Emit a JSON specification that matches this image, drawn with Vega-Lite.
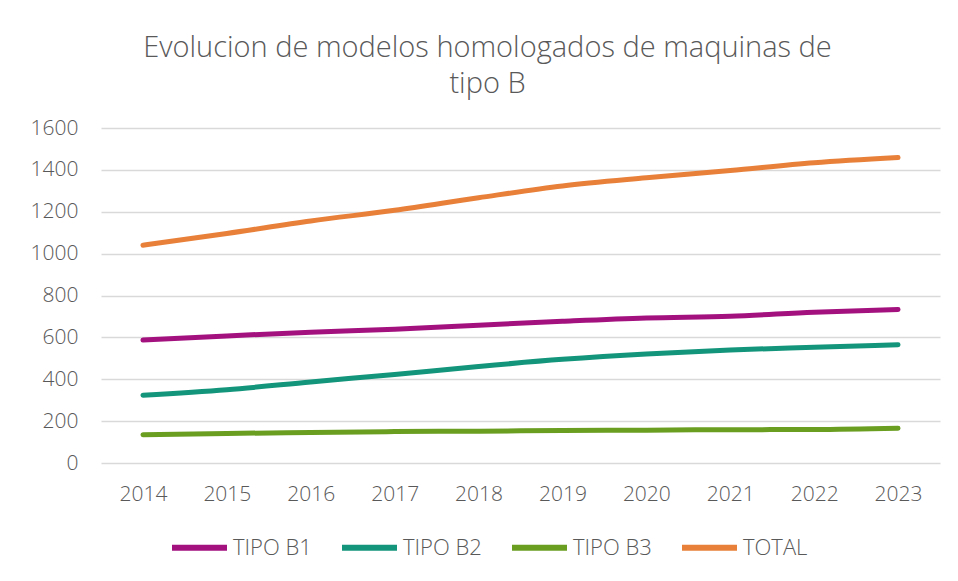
{
  "$schema": "https://vega.github.io/schema/vega-lite/v6.json",
  "autosize": "none",
  "width": 839,
  "height": 335,
  "padding": {"left": 101, "top": 128, "right": 18, "bottom": 118},
  "background": "white",
  "config": {
    "font": "Open Sans",
    "view": {"stroke": null}
  },
  "title": {
    "text": ["Evolucion de modelos homologados de maquinas de", "tipo B"],
    "fontSize": 29,
    "font": "Open Sans",
    "fontWeight": 300,
    "color": "#595959",
    "anchor": "middle",
    "dx": -33,
    "lineHeight": 36,
    "offset": 18
  },
  "data": {
    "values": [
      {"year": "2014", "serie": "TIPO B1", "value": 587},
      {"year": "2015", "serie": "TIPO B1", "value": 607},
      {"year": "2016", "serie": "TIPO B1", "value": 625},
      {"year": "2017", "serie": "TIPO B1", "value": 639},
      {"year": "2018", "serie": "TIPO B1", "value": 658},
      {"year": "2019", "serie": "TIPO B1", "value": 677},
      {"year": "2020", "serie": "TIPO B1", "value": 693},
      {"year": "2021", "serie": "TIPO B1", "value": 701},
      {"year": "2022", "serie": "TIPO B1", "value": 720},
      {"year": "2023", "serie": "TIPO B1", "value": 733},
      {"year": "2014", "serie": "TIPO B2", "value": 324},
      {"year": "2015", "serie": "TIPO B2", "value": 350},
      {"year": "2016", "serie": "TIPO B2", "value": 387},
      {"year": "2017", "serie": "TIPO B2", "value": 423},
      {"year": "2018", "serie": "TIPO B2", "value": 461},
      {"year": "2019", "serie": "TIPO B2", "value": 495},
      {"year": "2020", "serie": "TIPO B2", "value": 521},
      {"year": "2021", "serie": "TIPO B2", "value": 540},
      {"year": "2022", "serie": "TIPO B2", "value": 553},
      {"year": "2023", "serie": "TIPO B2", "value": 565},
      {"year": "2014", "serie": "TIPO B3", "value": 135},
      {"year": "2015", "serie": "TIPO B3", "value": 141},
      {"year": "2016", "serie": "TIPO B3", "value": 146},
      {"year": "2017", "serie": "TIPO B3", "value": 150},
      {"year": "2018", "serie": "TIPO B3", "value": 152},
      {"year": "2019", "serie": "TIPO B3", "value": 155},
      {"year": "2020", "serie": "TIPO B3", "value": 157},
      {"year": "2021", "serie": "TIPO B3", "value": 159},
      {"year": "2022", "serie": "TIPO B3", "value": 160},
      {"year": "2023", "serie": "TIPO B3", "value": 166},
      {"year": "2014", "serie": "TOTAL", "value": 1040},
      {"year": "2015", "serie": "TOTAL", "value": 1096},
      {"year": "2016", "serie": "TOTAL", "value": 1156},
      {"year": "2017", "serie": "TOTAL", "value": 1207},
      {"year": "2018", "serie": "TOTAL", "value": 1267},
      {"year": "2019", "serie": "TOTAL", "value": 1323},
      {"year": "2020", "serie": "TOTAL", "value": 1362},
      {"year": "2021", "serie": "TOTAL", "value": 1397},
      {"year": "2022", "serie": "TOTAL", "value": 1434},
      {"year": "2023", "serie": "TOTAL", "value": 1459}
    ]
  },
  "mark": {"type": "line", "strokeWidth": 5, "strokeCap": "round", "strokeJoin": "round", "interpolate": "monotone"},
  "encoding": {
    "x": {
      "field": "year",
      "type": "ordinal",
      "scale": {"type": "point", "padding": 0.5},
      "axis": {
        "title": null,
        "labelAngle": 0,
        "domain": false,
        "ticks": false,
        "grid": false,
        "labelFontSize": 21,
        "labelFontWeight": 300,
        "labelColor": "#595959",
        "labelPadding": 20,
        "labelBaseline": "top"
      }
    },
    "y": {
      "field": "value",
      "type": "quantitative",
      "scale": {"domain": [0, 1600], "nice": false},
      "axis": {
        "title": null,
        "format": "d",
        "values": [0, 200, 400, 600, 800, 1000, 1200, 1400, 1600],
        "domain": false,
        "ticks": false,
        "gridColor": "#D9D9D9",
        "gridWidth": 1.5,
        "labelFontSize": 21,
        "labelFontWeight": 300,
        "labelColor": "#595959",
        "labelPadding": 23
      }
    },
    "color": {
      "field": "serie",
      "type": "nominal",
      "scale": {
        "domain": ["TIPO B1", "TIPO B2", "TIPO B3", "TOTAL"],
        "range": ["#A3117F", "#13957B", "#6A9E21", "#E9803A"]
      },
      "legend": {
        "title": null,
        "orient": "none",
        "direction": "horizontal",
        "legendX": 68,
        "legendY": 389,
        "padding": 0,
        "columns": 4,
        "columnPadding": 18,
        "symbolType": "stroke",
        "symbolSize": 3025,
        "symbolStrokeWidth": 6,
        "labelFontSize": 22,
        "labelFontWeight": 300,
        "labelColor": "#595959",
        "labelOffset": 3
      }
    }
  }
}
